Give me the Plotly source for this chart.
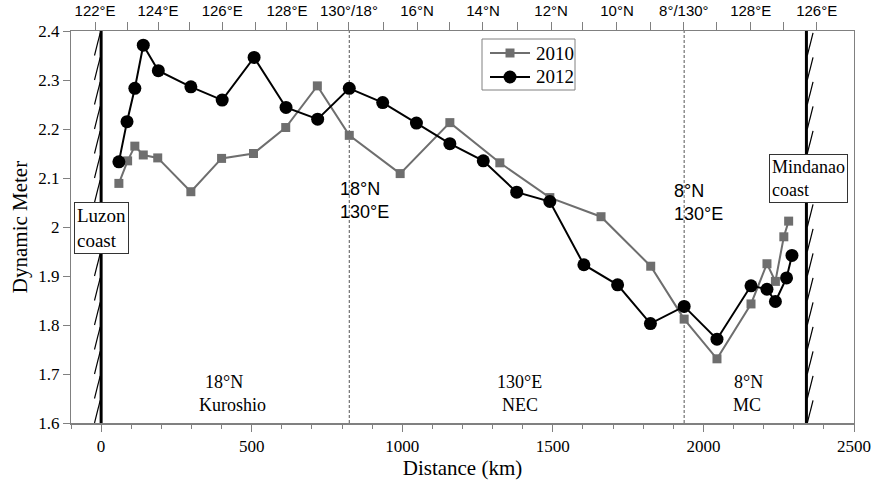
import plotly.graph_objects as go

# ---------------- data ----------------
DIST_2010 = [59, 88, 112, 140, 188, 298, 400, 506, 613, 718, 824, 993, 1158, 1324,
             1490, 1660, 1825, 1936, 2045, 2158, 2211, 2239, 2267, 2283]
DM_2010 = [2.089, 2.135, 2.165, 2.147, 2.141, 2.072, 2.140, 2.150, 2.203, 2.288, 2.187,
           2.109, 2.213, 2.131, 2.060, 2.021, 1.920, 1.812, 1.731, 1.843, 1.925, 1.889,
           1.980, 2.012]

DIST_2012 = [59, 86, 112, 140, 190, 298, 402, 508, 614, 719, 824, 935, 1047, 1158, 1269,
             1380, 1490, 1603, 1715, 1824, 1936, 2045, 2158, 2211, 2239, 2276, 2294]
DM_2012 = [2.133, 2.215, 2.283, 2.371, 2.319, 2.286, 2.259, 2.346, 2.244, 2.220, 2.283,
           2.254, 2.212, 2.170, 2.135, 2.071, 2.052, 1.923, 1.882, 1.803, 1.838, 1.771,
           1.880, 1.873, 1.848, 1.896, 1.942]

SERIES_NAMES = ["2010", "2012"]

COAST_KM = [0, 2342]
SECTION_KM = [824, 1936]

TOP_TICK_KM = [-20, 189, 402, 617, 823, 1049, 1268, 1494, 1713, 1935, 2157, 2376]
TOP_TICK_TEXT = ["122°E", "124°E", "126°E", "128°E", "130°/18°", "16°N", "14°N",
                 "12°N", "10°N", "8°/130°", "128°E", "126°E"]
TOP_MINOR_KM = [86, 295, 511, 720, 936, 1158, 1381, 1600, 1825, 2044, 2267]

Y_TICKS = [1.6, 1.7, 1.8, 1.9, 2.0, 2.1, 2.2, 2.3, 2.4]
Y_TICK_TEXT = ["1.6", "1.7", "1.8", "1.9", "2", "2.1", "2.2", "2.3", "2.4"]

X_RANGE = [-100, 2500]
Y_RANGE = [1.6, 2.4]

# ---------------- styling ----------------
SERIF = "Liberation Serif, Times New Roman, serif"
SANS = "Liberation Sans, Arial, sans-serif"
FRAME = "#808080"
GRAY = "#6e6e6e"
W, H = 873, 480
ML, MR, MT, MB = 71, 19, 31, 57
PW, PH = W - ML - MR, H - MT - MB


def px_x(p):
    return (p - ML) / PW


def px_y(p):
    return 1 - (p - MT) / PH


fig = go.Figure()

fig.add_trace(go.Scatter(
    x=DIST_2010, y=DM_2010, name=SERIES_NAMES[0], mode="lines+markers",
    line=dict(color=GRAY, width=2),
    marker=dict(symbol="square", size=9, color=GRAY),
))
fig.add_trace(go.Scatter(
    x=DIST_2012, y=DM_2012, name=SERIES_NAMES[1], mode="lines+markers",
    line=dict(color="#000000", width=2),
    marker=dict(symbol="circle", size=13, color="#000000"),
))
# helper so the top axis is rendered
fig.add_trace(go.Scatter(
    x=X_RANGE, y=[None, None], xaxis="x2", mode="lines", showlegend=False,
    hoverinfo="skip",
))

shapes = []
for xs in SECTION_KM:
    shapes.append(dict(type="line", xref="x", yref="y", x0=xs, x1=xs,
                       y0=Y_RANGE[0], y1=Y_RANGE[1], layer="below",
                       line=dict(color="#555555", width=1, dash="3px,2px")))
for xc in COAST_KM:
    shapes.append(dict(type="line", xref="x", yref="y", x0=xc, x1=xc,
                       y0=Y_RANGE[0], y1=Y_RANGE[1],
                       line=dict(color="#000000", width=3)))

# hatching along coasts
hatch_step = 0.05
hatch_h = 0.046
n_hatch = int(round((Y_RANGE[1] - Y_RANGE[0]) / hatch_step))
for k in range(n_hatch):
    y0 = Y_RANGE[0] + k * hatch_step
    shapes.append(dict(type="line", xref="x", yref="y",
                       x0=COAST_KM[0] - 22, x1=COAST_KM[0] - 3,
                       y0=y0, y1=y0 + hatch_h,
                       line=dict(color="#000000", width=1.2)))
    shapes.append(dict(type="line", xref="x", yref="y",
                       x0=COAST_KM[1] + 3, x1=COAST_KM[1] + 22,
                       y0=y0, y1=y0 + hatch_h,
                       line=dict(color="#000000", width=1.2)))

annotations = [
    dict(x=COAST_KM[0], y=1.998, xref="x", yref="y", text="Luzon<br>coast",
         showarrow=False, align="left", xanchor="center", yanchor="middle",
         font=dict(family=SERIF, size=19, color="#000"),
         bgcolor="white", bordercolor="#333333", borderwidth=1, borderpad=2),
    dict(x=COAST_KM[1] + 6, y=2.099, xref="x", yref="y", text="Mindanao<br>coast",
         showarrow=False, align="left", xanchor="center", yanchor="middle",
         font=dict(family=SERIF, size=18, color="#000"),
         bgcolor="white", bordercolor="#333333", borderwidth=1, borderpad=2),
    dict(x=787, y=2.055, xref="x", yref="y", text="18°N<br>130°E",
         showarrow=False, align="left", xanchor="left", yanchor="middle",
         font=dict(family=SANS, size=18, color="#000")),
    dict(x=1897, y=2.051, xref="x", yref="y", text="8°N<br>130°E",
         showarrow=False, align="left", xanchor="left", yanchor="middle",
         font=dict(family=SANS, size=18, color="#000")),
]
bottom_labels = [
    ("18°N", 408, 1.684), ("Kuroshio", 435, 1.637),
    ("130°E", 1390, 1.684), ("NEC", 1390, 1.637),
    ("8°N", 2151, 1.684), ("MC", 2144, 1.637),
]
for txt, xx, yy in bottom_labels:
    annotations.append(dict(x=xx, y=yy, xref="x", yref="y", text=txt,
                            showarrow=False, xanchor="center", yanchor="middle",
                            font=dict(family=SERIF, size=18, color="#000")))

# ---------------- hand-built legend (to match compact spacing) ----------------
shapes.append(dict(type="rect", xref="paper", yref="paper",
                   x0=px_x(482), x1=px_x(575), y0=px_y(90), y1=px_y(39),
                   line=dict(color=FRAME, width=1), fillcolor="white"))
legend_rows = [
    (SERIES_NAMES[0], 53, GRAY, "rect", 9),
    (SERIES_NAMES[1], 77, "#000000", "circle", 13),
]
for name, ypx, col, sym, sz in legend_rows:
    yy = px_y(ypx)
    shapes.append(dict(type="line", xref="paper", yref="paper",
                       x0=px_x(490), x1=px_x(530), y0=yy, y1=yy,
                       line=dict(color=col, width=2)))
    shapes.append(dict(type=sym, xref="paper", yref="paper",
                       xsizemode="pixel", ysizemode="pixel",
                       xanchor=px_x(510), yanchor=yy,
                       x0=-sz / 2, x1=sz / 2, y0=-sz / 2, y1=sz / 2,
                       line=dict(color=col, width=0), fillcolor=col))
    annotations.append(dict(x=px_x(534), y=yy, xref="paper", yref="paper",
                            text=name, showarrow=False, xanchor="left",
                            yanchor="middle",
                            font=dict(family=SERIF, size=19, color="#000")))

top_vals = TOP_TICK_KM + TOP_MINOR_KM
top_text = TOP_TICK_TEXT + [""] * len(TOP_MINOR_KM)

fig.update_layout(
    width=W, height=H,
    margin=dict(l=ML, r=MR, t=MT, b=MB, autoexpand=False),
    paper_bgcolor="white", plot_bgcolor="white",
    shapes=shapes, annotations=annotations,
    showlegend=False,
    xaxis=dict(
        range=X_RANGE, showgrid=False, zeroline=False, automargin=False,
        showline=True, linecolor=FRAME, linewidth=1.5,
        tickmode="array", tickvals=[0, 500, 1000, 1500, 2000, 2500],
        ticks="outside", ticklen=7, tickcolor=FRAME, tickwidth=1,
        minor=dict(dtick=100, tick0=0, ticks="outside", ticklen=4,
                   tickcolor=FRAME, showgrid=False),
        tickfont=dict(family=SERIF, size=17, color="#000"),
        title=dict(text="Distance (km)", font=dict(family=SERIF, size=21, color="#000"),
                   standoff=6),
    ),
    xaxis2=dict(
        range=X_RANGE, overlaying="x", side="top", showgrid=False, zeroline=False,
        automargin=False,
        showline=True, linecolor=FRAME, linewidth=1,
        tickmode="array", tickvals=top_vals, ticktext=top_text,
        ticks="outside", ticklen=8, tickcolor=FRAME,
        tickfont=dict(family=SANS, size=15, color="#000"),
    ),
    yaxis=dict(
        range=Y_RANGE, showgrid=False, zeroline=False, automargin=False,
        showline=True, linecolor=FRAME, linewidth=1, mirror=True,
        tickmode="array", tickvals=Y_TICKS, ticktext=Y_TICK_TEXT,
        ticks="outside", ticklen=7, tickcolor=FRAME,
        tickfont=dict(family=SERIF, size=17, color="#000"),
        title=dict(text="Dynamic Meter", font=dict(family=SERIF, size=21, color="#000"),
                   standoff=4),
    ),
)

fig.write_html("out.html")
